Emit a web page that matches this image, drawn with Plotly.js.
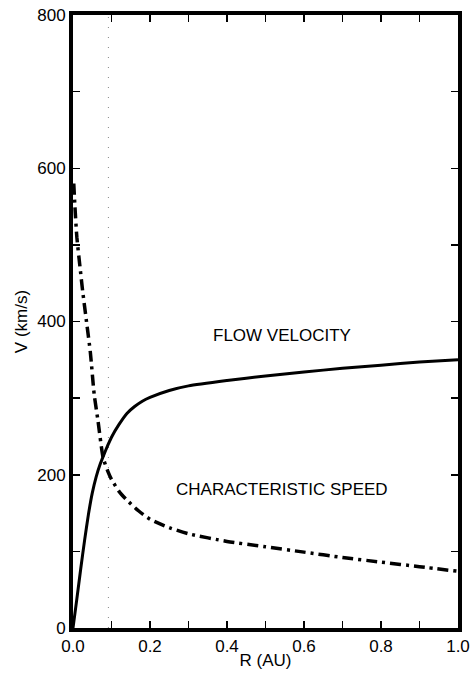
<!DOCTYPE html>
<html>
<head>
<meta charset="utf-8">
<script src="https://cdn.plot.ly/plotly-3.0.1.min.js"></script>
<style>html,body{margin:0;padding:0;background:#fff;}#chart{width:471px;height:677px;}</style>
</head>
<body>
<div id="chart"></div>
<script>
// Flow velocity (solid)
const flowR = [0, 0.01, 0.02, 0.03, 0.04, 0.05, 0.06, 0.07, 0.08, 0.09, 0.1, 0.12, 0.14, 0.16, 0.18, 0.2, 0.25, 0.3, 0.4, 0.5, 0.6, 0.7, 0.8, 0.9, 1.0];
const flowV = [0, 38, 77, 114, 148, 176, 197, 213, 226, 238, 249, 266, 280, 289, 296, 301, 310, 316, 323, 329, 334, 339, 343, 347, 350];
// Characteristic speed (dash-dot)
const charR = [0.002, 0.005, 0.01, 0.018, 0.025, 0.035, 0.045, 0.055, 0.065, 0.078, 0.09, 0.1, 0.12, 0.14, 0.17, 0.2, 0.25, 0.3, 0.4, 0.5, 0.6, 0.7, 0.8, 0.9, 1.0];
const charV = [580, 550, 510, 472, 440, 400, 360, 305, 270, 223, 205, 194, 178, 167, 153, 142, 131, 123, 113, 106, 99, 92, 86, 80, 74];
// Vertical dotted marker
const markR = [0.092, 0.092];
const markV = [0, 800];
// Labels
const labelText = ["FLOW VELOCITY", "CHARACTERISTIC SPEED"];
const labelR = [0.543, 0.542];
const labelV = [382, 181];

const font = "Liberation Sans, Arial, Helvetica, sans-serif";

const traces = [
  {x: markR, y: markV, mode: 'lines', line: {color: '#888', width: 1, dash: '1px,9px'}, hoverinfo: 'skip'},
  {x: flowR, y: flowV, mode: 'lines', line: {color: '#000', width: 3, shape: 'spline', smoothing: 0.6}},
  {x: charR, y: charV, mode: 'lines', line: {color: '#000', width: 3.5, dash: '11px,5px,3px,5px', shape: 'spline', smoothing: 0.6}}
];

const layout = {
  width: 471, height: 677,
  margin: {l: 73, r: 13, t: 15, b: 49},
  paper_bgcolor: '#fff', plot_bgcolor: '#fff',
  showlegend: false,
  font: {family: font, color: '#000', size: 17},
  xaxis: {
    range: [0, 1], dtick: 0.2, tickformat: '.1f',
    ticks: 'inside', ticklen: 7, tickwidth: 1.5, tickcolor: '#000',
    minor: {dtick: 0.1, ticks: 'inside', ticklen: 7, tickwidth: 1.5, tickcolor: '#000'},
    showline: true, linewidth: 4, linecolor: '#000', mirror: 'ticks',
    showgrid: false, zeroline: false,
    tickfont: {size: 17, family: font},
    title: {text: 'R (AU)', font: {size: 17, family: font}, standoff: 0}
  },
  yaxis: {
    range: [0, 800], dtick: 200,
    ticks: 'inside', ticklen: 7, tickwidth: 1.5, tickcolor: '#000',
    minor: {dtick: 100, ticks: 'inside', ticklen: 7, tickwidth: 1.5, tickcolor: '#000'},
    showline: true, linewidth: 4, linecolor: '#000', mirror: 'ticks',
    showgrid: false, zeroline: false,
    tickfont: {size: 17, family: font},
    title: {text: 'V (km/s)', font: {size: 17, family: font}, standoff: 6}
  },
  annotations: labelText.map((t, i) => ({
    x: labelR[i], y: labelV[i], text: t, showarrow: false,
    font: {size: 17, family: font, color: '#000'}
  }))
};

Plotly.newPlot('chart', traces, layout, {displayModeBar: false, staticPlot: true});
</script>
</body>
</html>
